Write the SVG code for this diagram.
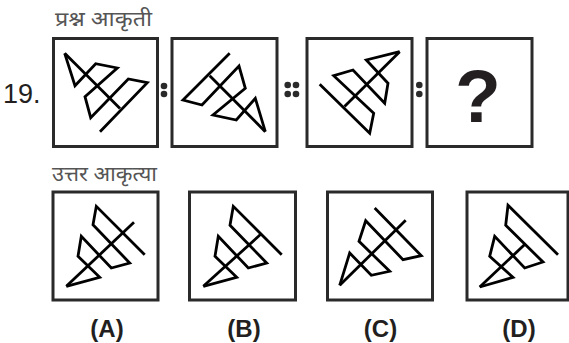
<svg xmlns="http://www.w3.org/2000/svg" width="569" height="343" viewBox="0 0 569 343">
<style>
.box{fill:#fff;stroke:#2a2a2a;stroke-width:3}
.fig{fill:none;stroke:#000;stroke-width:2.8;stroke-linejoin:miter;stroke-linecap:butt}
.dot{fill:#2a2a2a}
.hin{font-family:"Noto Sans Devanagari","Lohit Devanagari","Noto Sans",sans-serif;font-size:20px;fill:#555}
.lbl{font-family:"Liberation Sans",Arial,sans-serif;font-weight:bold;font-size:24px;fill:#231f20;text-anchor:middle}
</style>
<rect width="569" height="343" fill="#fff"/>
<text class="hin" x="55" y="26" textLength="97" lengthAdjust="spacingAndGlyphs">प्रश्न आकृती</text>
<text x="3" y="103" font-family="Liberation Sans, Arial, sans-serif" font-size="27" fill="#231f20">19.</text>
<g id="q1">
<rect class="box" x="53.5" y="38.5" width="104" height="108"/>
<polyline class="fig" points="64.7,53.3 75,85.7 95.7,63.7 117.3,68 85,96.7 90.7,117.7 128.3,79 147.3,82.7 100,131.7"/>
<line class="fig" x1="64.7" y1="53.3" x2="120" y2="108.5"/>
</g>
<g id="sep1"><circle class="dot" cx="164" cy="86" r="3.3"/><circle class="dot" cx="164" cy="94" r="3.3"/></g>
<g id="q2">
<rect class="box" x="172" y="38.5" width="105" height="108"/>
<polyline class="fig" points="265.3,131.7 255.3,98.3 236.3,120 213,115 245.3,88.3 239,66 202,105 183,100 229.7,53.3"/>
<line class="fig" x1="265.3" y1="131.7" x2="209.7" y2="75.7"/>
</g>
<g id="sep2"><circle class="dot" cx="287.7" cy="85" r="3.3"/><circle class="dot" cx="296" cy="85" r="3.3"/><circle class="dot" cx="287.7" cy="94" r="3.3"/><circle class="dot" cx="296" cy="94" r="3.3"/></g>
<g id="q3">
<rect class="box" x="307" y="38.5" width="105" height="108"/>
<polyline class="fig" points="399.7,51.7 366.3,60 388,83.3 384.7,103.3 353,70 333.7,75.7 373.7,113.3 369.7,133.3 319.7,84.3"/>
<line class="fig" x1="399.7" y1="51.7" x2="344.5" y2="106.5"/>
</g>
<g id="sep3"><circle class="dot" cx="419.3" cy="85" r="3.3"/><circle class="dot" cx="419.3" cy="94" r="3.3"/></g>
<g id="q4">
<rect class="box" x="427" y="38.5" width="105" height="108"/>
<text x="478" y="122" font-family="Liberation Sans, Arial, sans-serif" font-weight="bold" font-size="75" fill="#231f20" text-anchor="middle">?</text>
</g>
<text class="hin" x="52" y="181" textLength="105" lengthAdjust="spacingAndGlyphs">उत्तर आकृत्या</text>
<g id="optA">
<rect class="box" x="53" y="192" width="105" height="108"/>
<polyline class="fig" points="144.7,254.7 96.3,206.3 93,224.7 129.7,263 111.3,268 81.3,236.3 78,256.3 99.7,277.3 66.3,286.3"/>
<line class="fig" x1="66.3" y1="286.3" x2="134" y2="222.3"/>
<text class="lbl" x="107" y="337">(A)</text>
</g>
<g id="optB">
<rect class="box" x="189.5" y="192" width="106" height="108"/>
<polyline class="fig" points="281.7,254.7 233.3,206.3 230,225.3 266.7,263 248.3,268 218.3,236.3 215,256.3 236.7,277.3 203.3,286.3"/>
<line class="fig" x1="203.3" y1="286.3" x2="261" y2="234"/>
<text class="lbl" x="244" y="337">(B)</text>
</g>
<g id="optC">
<rect class="box" x="327.5" y="192" width="105" height="108"/>
<polyline class="fig" points="374.7,208 421.3,255.7 403,259.7 365.7,220.7 359,241.3 389.7,271.3 371.3,275.3 349.7,253 339.7,285.3"/>
<line class="fig" x1="339.7" y1="285.3" x2="405.7" y2="220.3"/>
<text class="lbl" x="380.5" y="337">(C)</text>
</g>
<g id="optD">
<rect class="box" x="467" y="192" width="101" height="108"/>
<polyline class="fig" points="558,254.7 508,205.3 505.7,225.3 543,262 524.7,268 494.7,236.3 489.7,256.3 513,277.3 479.7,287"/>
<line class="fig" x1="479.7" y1="287" x2="524.7" y2="244.5"/>
<text class="lbl" x="519" y="337">(D)</text>
</g>
</svg>
